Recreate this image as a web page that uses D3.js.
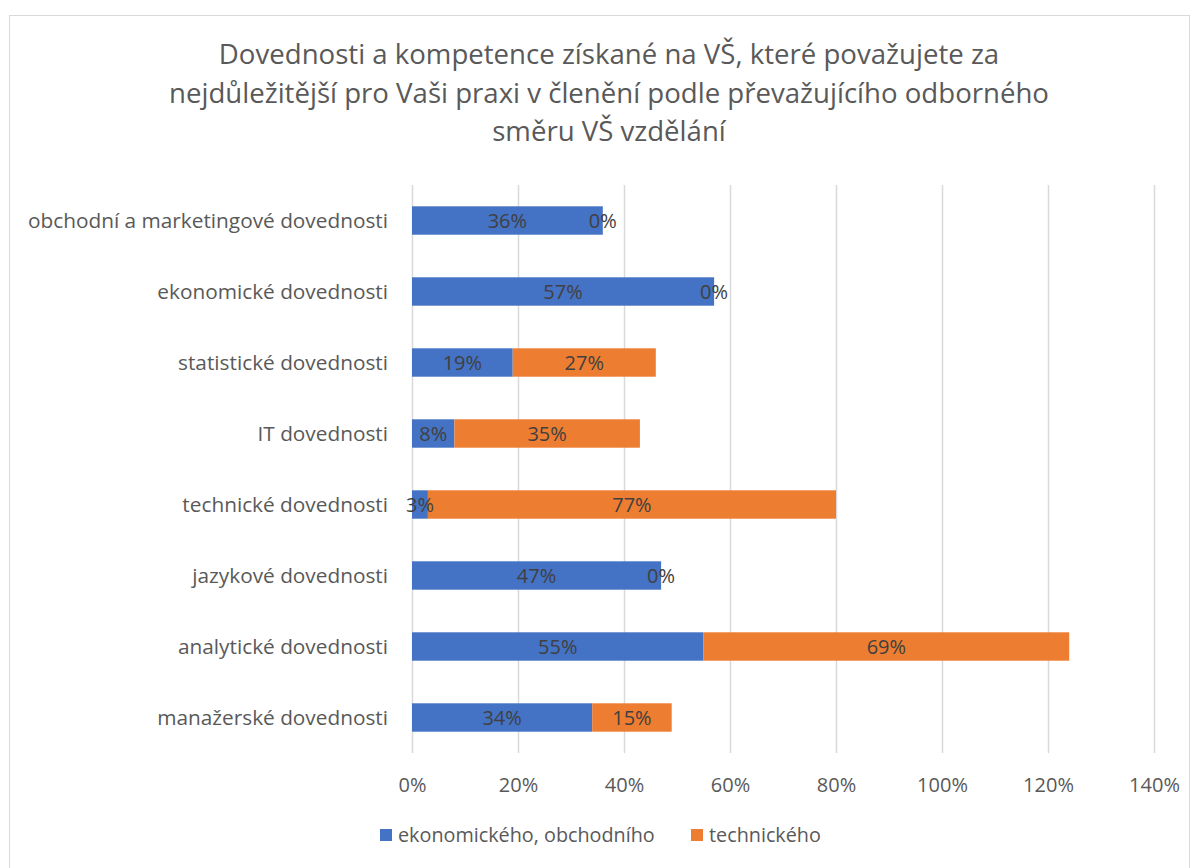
<!DOCTYPE html>
<html>
<head>
<meta charset="utf-8">
<script src="https://cdn.jsdelivr.net/npm/d3@7"></script>
<style>
  html, body { margin: 0; padding: 0; background: #fff; }
  svg text { font-family: "Open Sans", "Noto Sans", sans-serif; }
</style>
</head>
<body>
<svg id="chart" width="1195" height="868"></svg>
<script>
// Categories, top to bottom
const categories = [
  "obchodní a marketingové dovednosti",
  "ekonomické dovednosti",
  "statistické dovednosti",
  "IT dovednosti",
  "technické dovednosti",
  "jazykové dovednosti",
  "analytické dovednosti",
  "manažerské dovednosti"
];
// Share of respondents (%) by prevailing field of study
const ekonomicke = [36, 57, 19, 8, 3, 47, 55, 34];
const technicke  = [0, 0, 27, 35, 77, 0, 69, 15];
const seriesNames = ["ekonomického, obchodního", "technického"];
const seriesColors = ["#4472C4", "#ED7D31"];
const xTicks = [0, 20, 40, 60, 80, 100, 120, 140];
const titleLines = [
  "Dovednosti a kompetence získané na VŠ, které považujete za",
  "nejdůležitější pro Vaši praxi v členění podle převažujícího odborného",
  "směru VŠ vzdělání"
];

const svg = d3.select("#chart");

// outer chart frame
svg.append("rect")
  .attr("x", 9.5).attr("y", 15.5)
  .attr("width", 1180).attr("height", 860)
  .attr("fill", "#fff").attr("stroke", "#d9d9d9").attr("stroke-width", 1);

const plot = { left: 412, right: 1154, top: 185, bottom: 753 };

const x = d3.scaleLinear().domain([0, 140]).range([plot.left, plot.right]);
const y = d3.scaleBand().domain(categories).range([plot.top, plot.bottom]).paddingInner(0.6).paddingOuter(0.3);

// title
svg.append("g").selectAll("text").data(titleLines).join("text")
  .attr("x", 609).attr("y", (d, i) => 64 + i * 38.5)
  .attr("text-anchor", "middle")
  .attr("fill", "#595959")
  .attr("font-size", 27.6)
  .text(d => d);

// vertical gridlines
svg.append("g").selectAll("line").data(xTicks).join("line")
  .attr("x1", d => x(d) + 0.5).attr("x2", d => x(d) + 0.5)
  .attr("y1", plot.top).attr("y2", plot.bottom)
  .attr("stroke", "#d9d9d9").attr("stroke-width", 1.5);

// x axis tick labels
const xAxis = d3.axisBottom(x).tickValues(xTicks).tickFormat(d => d + "%").tickSize(0).tickPadding(0);
const gx = svg.append("g").attr("transform", `translate(0,${plot.bottom})`).call(xAxis);
gx.select(".domain").remove();
gx.selectAll("text")
  .attr("y", 39).attr("dy", 0)
  .attr("fill", "#595959").attr("font-size", 20)
  .attr("font-family", "\"Open Sans\", sans-serif");

// y axis category labels
const yAxis = d3.axisLeft(y).tickSize(0).tickPadding(0);
const gy = svg.append("g").attr("transform", `translate(${plot.left - 24},0)`).call(yAxis);
gy.select(".domain").remove();
gy.selectAll("text")
  .attr("dy", "0.35em")
  .attr("fill", "#595959").attr("font-size", 20.8)
  .attr("font-family", "\"Open Sans\", sans-serif");

// stacked data
const rows = categories.map((c, i) => ({ cat: c, s0: ekonomicke[i], s1: technicke[i] }));
const stack = d3.stack().keys(["s0", "s1"]);
const stacked = stack(rows);

const layers = svg.append("g").selectAll("g").data(stacked).join("g")
  .attr("fill", (d, i) => seriesColors[i]);

layers.selectAll("rect").data(d => d).join("rect")
  .attr("x", d => x(d[0]))
  .attr("y", d => y(d.data.cat))
  .attr("width", d => x(d[1]) - x(d[0]))
  .attr("height", y.bandwidth());

// data labels, centred in each segment (zero segments sit at the bar end)
const labels = svg.append("g");
stacked.forEach(layer => {
  labels.selectAll(null).data(layer).join("text")
    .attr("x", d => x((d[0] + d[1]) / 2))
    .attr("y", d => y(d.data.cat) + y.bandwidth() / 2)
    .attr("dy", "0.35em")
    .attr("text-anchor", "middle")
    .attr("fill", "#404040")
    .attr("font-size", 20)
    .text(d => (d[1] - d[0]) + "%");
});

// legend
const legend = svg.append("g").attr("transform", "translate(380,835)");
const legendX = [0, 311];
seriesNames.forEach((name, i) => {
  const g = legend.append("g").attr("transform", `translate(${legendX[i]},0)`);
  g.append("rect").attr("x", 0).attr("y", -6).attr("width", 12).attr("height", 12).attr("fill", seriesColors[i]);
  g.append("text").attr("x", 18).attr("y", 0).attr("dy", "0.35em")
    .attr("fill", "#595959").attr("font-size", 19.8).text(name);
});
</script>
</body>
</html>
